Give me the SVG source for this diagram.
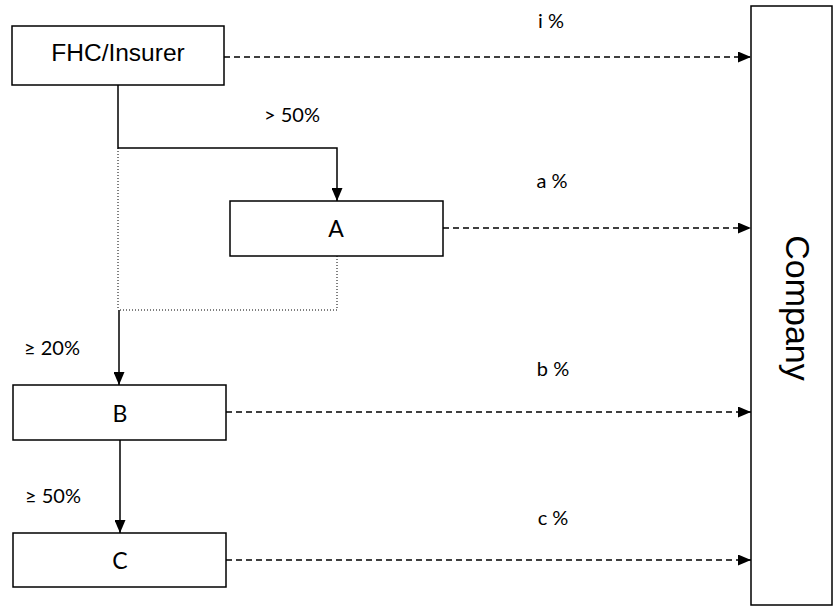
<svg xmlns="http://www.w3.org/2000/svg" width="833" height="609" viewBox="0 0 833 609">
<defs>
<marker id="ah" markerWidth="13" markerHeight="11" refX="13" refY="5.5" orient="auto" markerUnits="userSpaceOnUse">
<path d="M0,0 L13,5.5 L0,11 Z" fill="#000"/>
</marker>
</defs>
<style>
.box{fill:#fff;stroke:#000;stroke-width:1.5}
.lbl{font-family:"Lato","Open Sans",sans-serif;font-size:20px;fill:#000;text-anchor:middle}
.nm{font-family:"Lato","Open Sans",sans-serif;font-size:23px;fill:#000;text-anchor:middle}
.arial{font-family:"Liberation Sans",Arial,sans-serif;fill:#000;text-anchor:middle}
.solid{fill:none;stroke:#000;stroke-width:1.5}
.dash{fill:none;stroke:#000;stroke-width:1.5;stroke-dasharray:6 4}
.dot{fill:none;stroke:#000;stroke-width:1;stroke-dasharray:1 2}
</style>
<g id="connectors">
<path class="dot" d="M118,148 V310"/>
<path class="dot" d="M337,256 V310 H119"/>
<path class="solid" d="M118,85 V148 H337 V201" marker-end="url(#ah)"/>
<path class="solid" d="M119,310 V385" marker-end="url(#ah)"/>
<path class="solid" d="M120,440 V533" marker-end="url(#ah)"/>
<path class="dash" d="M224,57 H751" marker-end="url(#ah)"/>
<path class="dash" d="M443,228 H751" marker-end="url(#ah)"/>
<path class="dash" d="M226,412 H751" marker-end="url(#ah)"/>
<path class="dash" d="M226,560 H751" marker-end="url(#ah)"/>
<text class="lbl" x="551" y="28">i %</text>
<text class="lbl" x="292" y="122">&gt; 50%</text>
<text class="lbl" x="552" y="188">a %</text>
<text class="lbl" x="52" y="355">≥ 20%</text>
<text class="lbl" x="553" y="376">b %</text>
<text class="lbl" x="53" y="503">≥ 50%</text>
<text class="lbl" x="553" y="525">c %</text>
</g>
<g id="fhc">
<rect class="box" x="12" y="26" width="212" height="59"/>
<text class="arial" x="118" y="61" font-size="24.5">FHC/Insurer</text>
</g>
<g id="a">
<rect class="box" x="230" y="201" width="213" height="55"/>
<text class="nm" x="336" y="237">A</text>
</g>
<g id="b">
<rect class="box" x="13" y="385" width="213" height="55"/>
<text class="nm" x="120" y="422">B</text>
</g>
<g id="c">
<rect class="box" x="13" y="533" width="213" height="54"/>
<text class="nm" x="120" y="569">C</text>
</g>
<g id="company">
<rect class="box" x="751" y="6" width="81" height="599"/>
<text class="arial" font-size="34" transform="translate(786,308) rotate(90)">Company</text>
</g>
</svg>
